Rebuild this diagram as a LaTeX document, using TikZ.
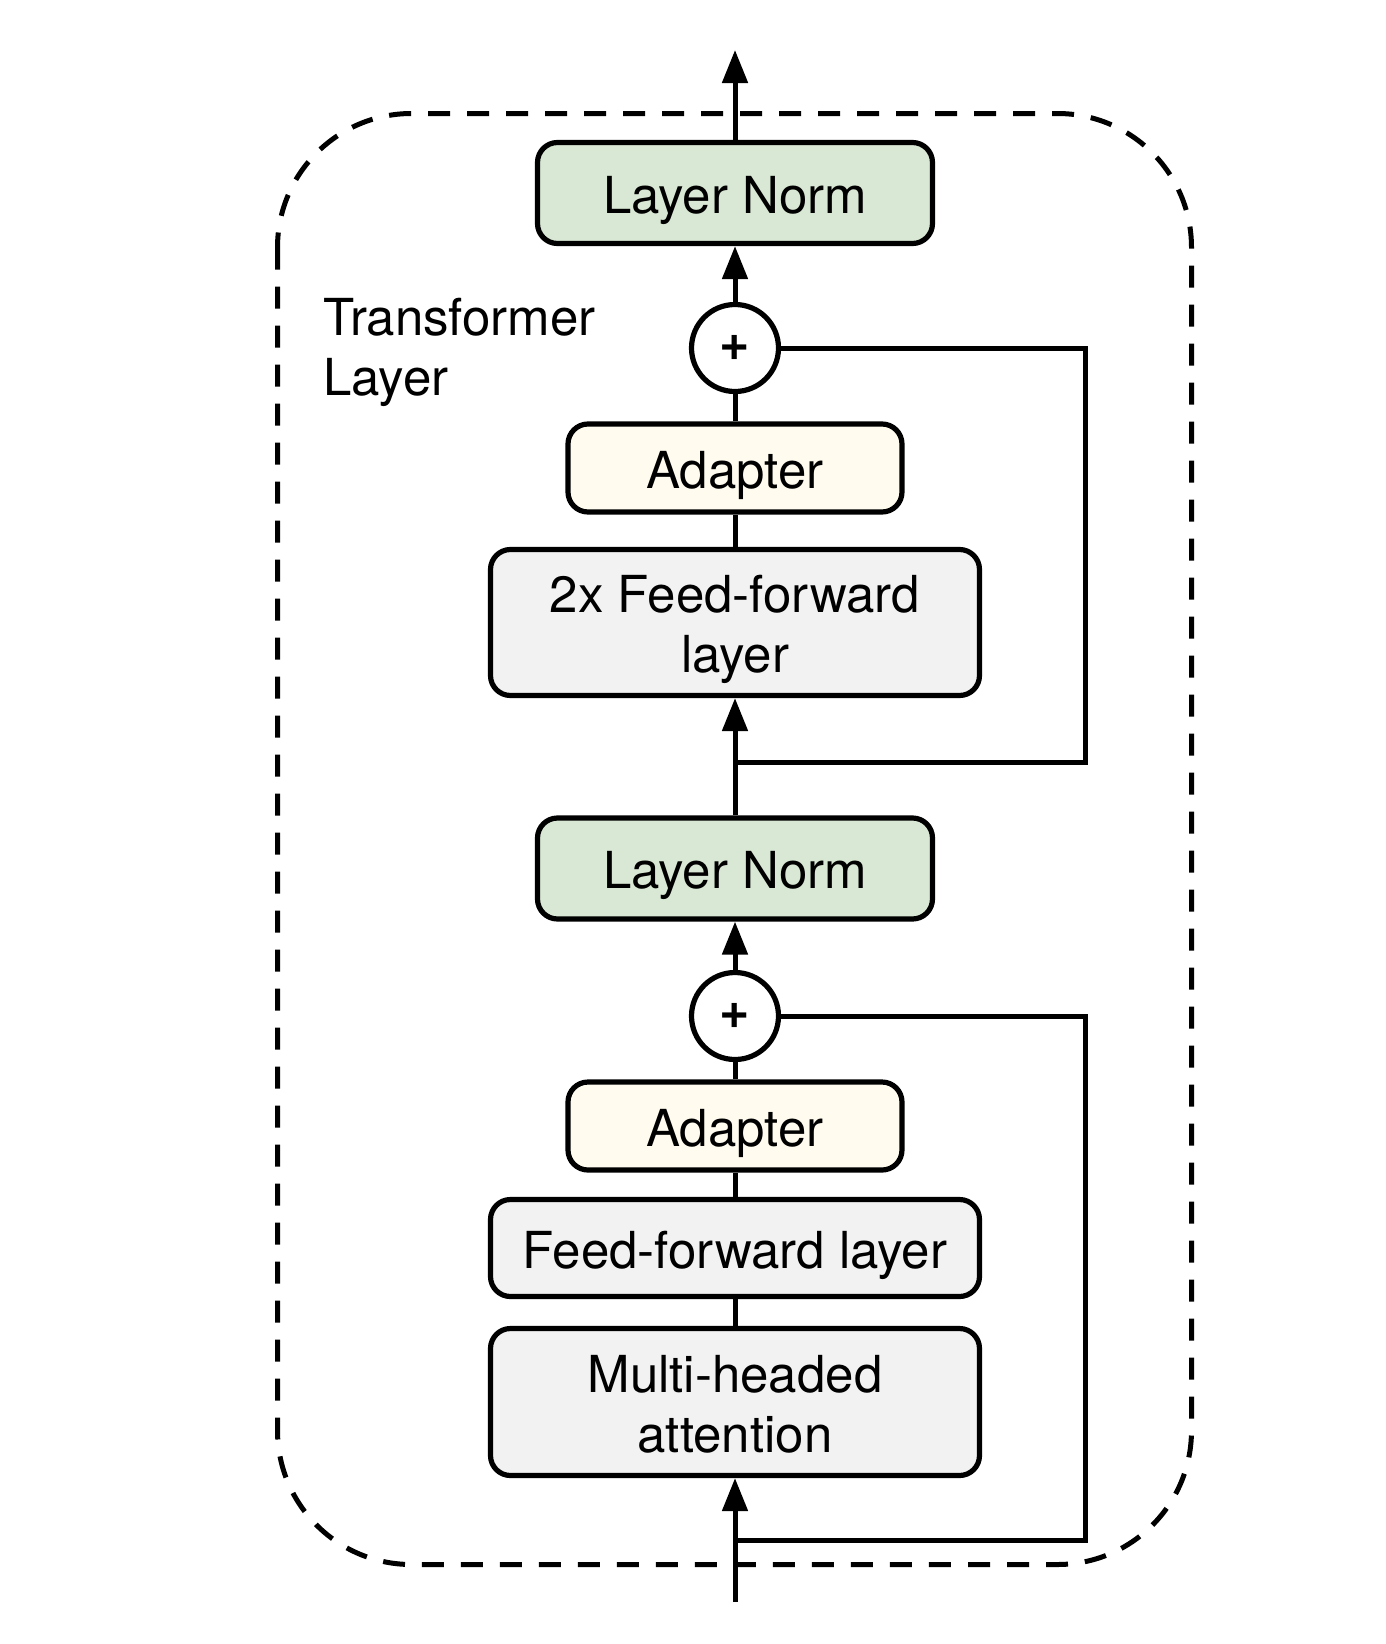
\documentclass[tikz,border=0pt]{standalone}
\usepackage{fontspec}
\setmainfont{TeX Gyre Heros}
\usetikzlibrary{arrows.meta,calc}
\definecolor{lngreen}{HTML}{D9E8D4}
\definecolor{adcream}{HTML}{FFFCEF}
\definecolor{ffgray}{HTML}{F2F2F2}
\tikzset{
  blk/.style={draw=black, line width=2.6pt, rounded corners=10pt, align=center,
    font=\fontsize{25.5}{30}\selectfont, inner sep=0pt, text height=20pt, text depth=0pt},
  twoline/.style={text height=50pt, text depth=0pt},
  lnbox/.style={blk, fill=lngreen, minimum width=197.5pt, minimum height=50.5pt},
  adbox/.style={blk, fill=adcream, minimum width=167pt, minimum height=44pt},
  ffbox/.style={blk, fill=ffgray, minimum width=244.5pt},
  sumnode/.style={circle, draw=black, line width=2.6pt, fill=white, minimum size=43.5pt,
    inner sep=0pt, font=\fontsize{26}{26}\selectfont\bfseries},
  conn/.style={line width=2.5pt},
  arr/.style={conn, -{Triangle[length=16.5pt,width=12.5pt]}},
  outer/.style={draw=black, line width=2.5pt, dash pattern=on 11pt off 8.5pt, rounded corners=67pt}
}
\begin{document}
\begin{tikzpicture}[x=0.5pt,y=-0.5pt]
\useasboundingbox (0,0) rectangle (1386,1644);
\fill[white] (0,0) rectangle (1386,1644);
% outer dashed container
\draw[outer] (277.5,113.5) rectangle (1191.5,1564.5);
\node[anchor=base west, align=left, font=\fontsize{25.5}{30}\selectfont, inner sep=0pt] (title) at (323,395) {Transformer\\Layer};

% nodes
\node[lnbox] (ln1) at (735,193) {Layer Norm};
\node[sumnode] (sum1) at (735,348) {+};
\node[adbox] (ad1) at (735,468) {Adapter};
\node[ffbox, twoline, minimum height=73pt] (ff2) at (735,622.5) {2x Feed-forward\\layer};
\node[lnbox] (ln2) at (735,868.5) {Layer Norm};
\node[sumnode] (sum2) at (735,1016) {+};
\node[adbox] (ad2) at (735,1126) {Adapter};
\node[ffbox, minimum height=48.5pt] (ff) at (735,1248) {Feed-forward layer};
\node[ffbox, twoline, minimum height=73.5pt] (mha) at (735,1402) {Multi-headed\\attention};

\coordinate (out) at (735,50);
\coordinate (in) at (735,1602);
\coordinate (b1) at (735,762);
\coordinate (c1) at (1085,762);
\coordinate (b2) at (735,1540);
\coordinate (c2) at (1085,1540);

% connectors
\draw[arr] (ln1.north) -- (out);
\draw[arr] (sum1.north) -- (ln1.south);
\draw[conn] (ad1.north) -- (sum1.south);
\draw[conn] (ff2.north) -- (ad1.south);
\draw[arr] (ln2.north) -- (ff2.south);
\draw[conn] (b1) -- (c1) |- (sum1.east);
\draw[arr] (sum2.north) -- (ln2.south);
\draw[conn] (ad2.north) -- (sum2.south);
\draw[conn] (ff.north) -- (ad2.south);
\draw[conn] (mha.north) -- (ff.south);
\draw[arr] (in) -- (mha.south);
\draw[conn] (b2) -- (c2) |- (sum2.east);
\end{tikzpicture}
\end{document}
